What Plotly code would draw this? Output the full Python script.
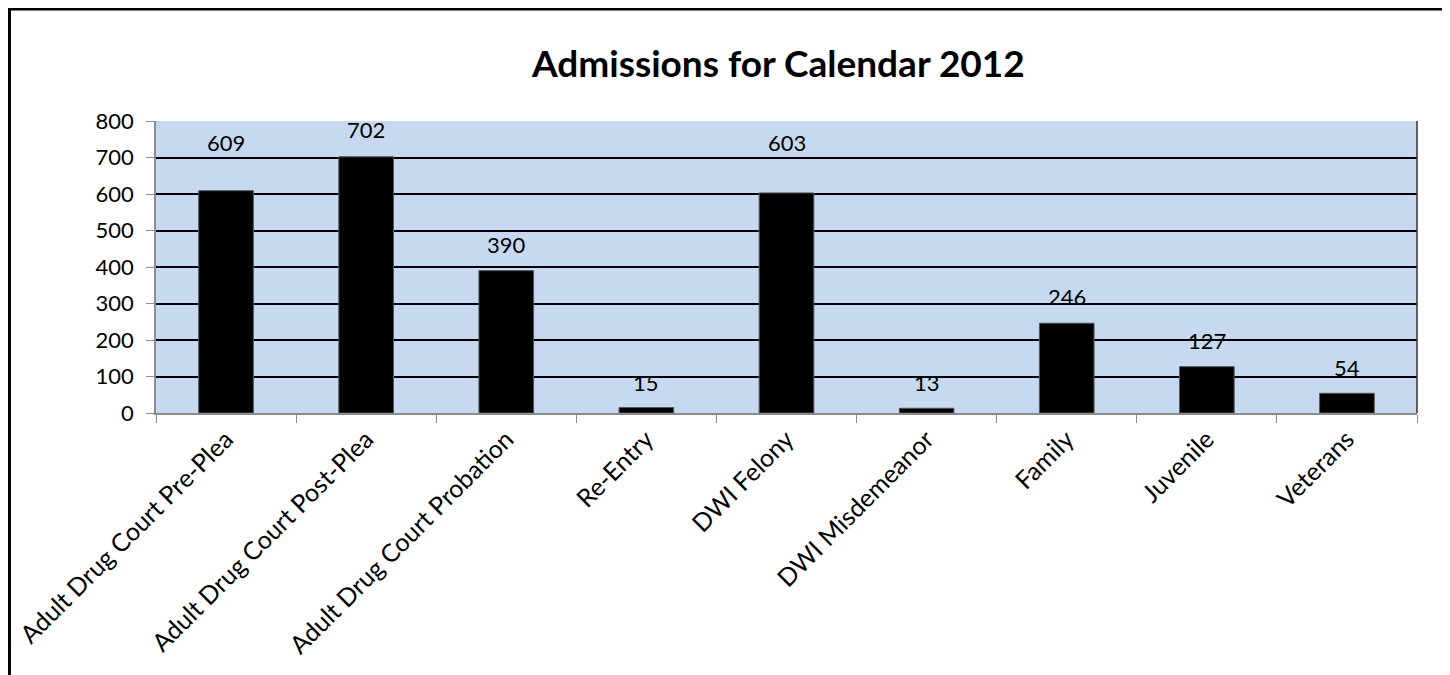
import plotly.graph_objects as go

categories = ["Adult Drug Court Pre-Plea", "Adult Drug Court Post-Plea", "Adult Drug Court Probation",
              "Re-Entry", "DWI Felony", "DWI Misdemeanor", "Family", "Juvenile", "Veterans"]
values = [609, 702, 390, 15, 603, 13, 246, 127, 54]
label_shift = [48, 27, 26, 25, 50, 26, 27, 26, 26]
y_ticks = [0, 100, 200, 300, 400, 500, 600, 700, 800]

FONT = "Lato, 'Open Sans', sans-serif"

fig = go.Figure()
fig.add_trace(go.Bar(
    x=categories, y=values, width=0.39,
    marker=dict(color="black", line=dict(color="#555555", width=1)),
    hoverinfo="x+y",
))

for c, v, s in zip(categories, values, label_shift):
    fig.add_annotation(x=c, y=v, text=str(v), showarrow=False, yshift=s,
                       font=dict(family=FONT, size=22, color="black"))

fig.add_annotation(xref="paper", yref="paper", x=0.493, y=1.20, text="<b>Admissions for Calendar 2012</b>",
                   showarrow=False, font=dict(family=FONT, size=37, color="black"), yanchor="middle")

# outer chart border
fig.add_shape(type="rect", xref="paper", yref="paper", x0=-0.1162, x1=1.0238, y0=-1.2, y1=1.3836,
              line=dict(color="black", width=3), layer="above")

fig.update_layout(
    width=1450, height=675,
    margin=dict(l=148, r=41, t=113, b=270),
    paper_bgcolor="white", plot_bgcolor="#C6D9F1",
    showlegend=False,
    bargap=0.61,
    xaxis=dict(
        tickangle=-45, tickfont=dict(family=FONT, size=25, color="black"),
        showline=True, linecolor="#8c8c8c", linewidth=1.5, automargin=False,
        ticks="outside", ticklen=8, tickcolor="#8c8c8c",
        tickson="boundaries", showgrid=False, mirror=False,
    ),
    yaxis=dict(
        range=[0, 800], tickvals=y_ticks, tickfont=dict(family=FONT, size=22, color="black"),
        showline=True, linecolor="#8c8c8c", linewidth=1.5, automargin=False,
        ticks="outside", ticklen=8, tickcolor="#8c8c8c", ticklabelstandoff=8,
        showgrid=True, gridcolor="black", gridwidth=1.5, zeroline=False,
    ),
)
# right border of plot area
fig.add_shape(type="line", xref="paper", yref="paper", x0=1, x1=1, y0=0, y1=1,
              line=dict(color="#333333", width=1.5))

fig.write_html("out.html")
